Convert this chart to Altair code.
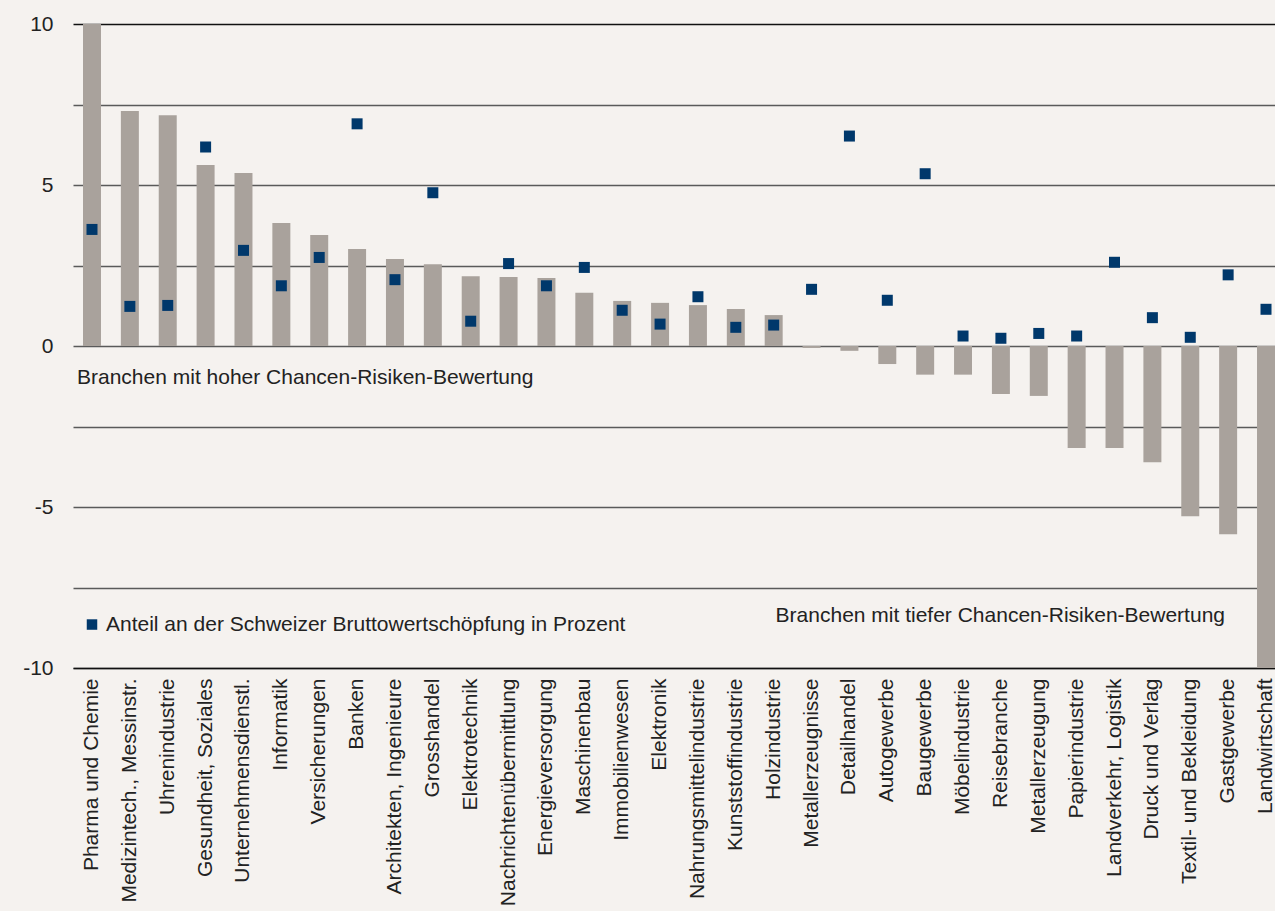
import altair as alt
import pandas as pd

categories = [
    "Pharma und Chemie", "Medizintech., Messinstr.", "Uhrenindustrie", "Gesundheit, Soziales",
    "Unternehmensdienstl.", "Informatik", "Versicherungen", "Banken", "Architekten, Ingenieure",
    "Grosshandel", "Elektrotechnik", "Nachrichtenübermittlung", "Energieversorgung", "Maschinenbau",
    "Immobilienwesen", "Elektronik", "Nahrungsmittelindustrie", "Kunststoffindustrie", "Holzindustrie",
    "Metallerzeugnisse", "Detailhandel", "Autogewerbe", "Baugewerbe", "Möbelindustrie",
    "Reisebranche", "Metallerzeugung", "Papierindustrie", "Landverkehr, Logistik", "Druck und Verlag",
    "Textil- und Bekleidung", "Gastgewerbe", "Landwirtschaft",
]
bewertung = [10.0, 7.30, 7.17, 5.62, 5.37, 3.82, 3.45, 3.01, 2.70, 2.54, 2.17, 2.14, 2.11, 1.65,
             1.40, 1.34, 1.27, 1.15, 0.96, -0.06, -0.15, -0.56, -0.89, -0.89, -1.49, -1.55,
             -3.17, -3.17, -3.61, -5.29, -5.85, -10.0]
anteil = [3.62, 1.23, 1.26, 6.18, 2.97, 1.87, 2.75, 6.90, 2.06, 4.76, 0.77, 2.56, 1.87, 2.44,
          1.11, 0.68, 1.53, 0.58, 0.65, 1.76, 6.52, 1.42, 5.35, 0.31, 0.24, 0.39, 0.31, 2.60,
          0.88, 0.27, 2.21, 1.14]
y_ticks = [-10, -7.5, -5, -2.5, 0, 2.5, 5, 7.5, 10]

df = pd.DataFrame({"Branche": categories, "Bewertung": bewertung, "Anteil": anteil})

FONT = "Liberation Sans"
FS = 21
BAR = "#a9a29c"
NAVY = "#00386b"
TXT = "#222222"

xscale = alt.Scale(domain=categories, range=[0, 1212], paddingInner=0.525, paddingOuter=0.264)
yscale = alt.Scale(domain=[-10, 10], nice=False, zero=False)

x_enc = alt.X("Branche:N", sort=categories, scale=xscale, title=None,
              axis=alt.Axis(labelAngle=-90, labelPadding=10, ticks=False, labelFontSize=FS,
                            labelFont=FONT, labelColor=TXT, labelLimit=400,
                            domainColor="#111111", domainWidth=1.5, grid=False, zindex=0))
y_axis = alt.Axis(values=y_ticks, ticks=False, domain=False, labelFontSize=FS, labelFont=FONT,
                  labelColor=TXT, labelPadding=20,
                  labelExpr="datum.value % 5 == 0 ? toString(datum.value) : ''",
                  gridColor=alt.condition("datum.value == 10", alt.value("#111111"), alt.value("#5a5a5a")),
                  gridWidth=1.3, zindex=0)

base = alt.Chart(df)

bars = base.mark_bar(color=BAR, clip=True).encode(
    x=x_enc,
    y=alt.Y("Bewertung:Q", scale=yscale, title=None, axis=y_axis),
)

squares = base.mark_square(color=NAVY, size=121, opacity=1, clip=True).encode(
    x=alt.X("Branche:N", sort=categories, scale=xscale),
    y=alt.Y("Anteil:Q", scale=yscale),
)

ann = pd.DataFrame({"t": ["x"]})
txt_hoch = alt.Chart(ann).mark_text(align="left", baseline="middle", fontSize=FS, font=FONT,
                                    color=TXT, text="Branchen mit hoher Chancen-Risiken-Bewertung").encode(
    x=alt.value(4), y=alt.datum(-1.0))
txt_tief = alt.Chart(ann).mark_text(align="right", baseline="middle", fontSize=FS, font=FONT,
                                    color=TXT, text="Branchen mit tiefer Chancen-Risiken-Bewertung").encode(
    x=alt.value(1152), y=alt.datum(-8.4))
leg_sq = alt.Chart(ann).mark_square(color=NAVY, size=110, opacity=1).encode(
    x=alt.value(19), y=alt.datum(-8.65))
leg_txt = alt.Chart(ann).mark_text(align="left", baseline="middle", fontSize=FS, font=FONT,
                                   color=TXT, text="Anteil an der Schweizer Bruttowertschöpfung in Prozent").encode(
    x=alt.value(33), y=alt.datum(-8.65))

chart = alt.layer(bars, squares, txt_hoch, txt_tief, leg_sq, leg_txt).properties(
    width=1202, height=644,
    autosize=alt.AutoSizeParams(type="none"),
    padding={"left": 73, "top": 24, "right": 0, "bottom": 243},
    background="#f5f2ef",
).configure_view(stroke=None)

chart.save("out.html", embed_options={"renderer": "svg", "actions": False})
